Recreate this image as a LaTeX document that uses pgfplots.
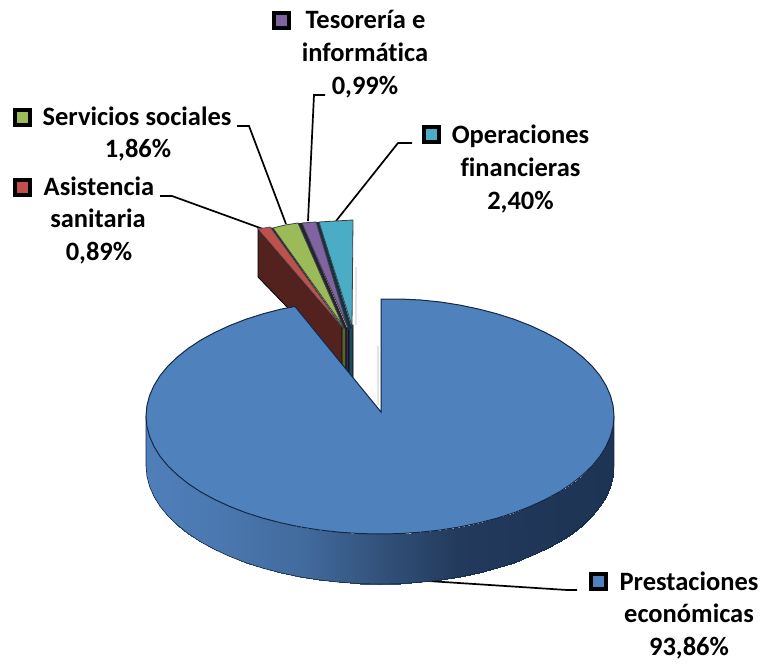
\documentclass[border=0pt]{standalone}
\usepackage{pgfplots}
\pgfplotsset{compat=1.18}
\usepackage{fontspec}
\setmainfont{Carlito}[Ligatures=NoCommon]
\definecolor{piemain}{RGB}{79,129,189}
\definecolor{pieline}{RGB}{20,40,70}
\tikzset{lab/.style={font=\fontsize{26.5}{30}\selectfont\bfseries, inner sep=0pt, anchor=base, text=black}}
\begin{document}
\begin{tikzpicture}
\begin{axis}[
  scale only axis, width=764pt, height=664pt,
  xmin=0, xmax=764, ymin=0, ymax=664, y dir=reverse,
  hide axis, clip=false,
  colormap={side}{rgb255=(79,127,186) rgb255=(74,119,175) rgb255=(66,107,158) rgb255=(50,82,122) rgb255=(35,58,92) rgb255=(31,54,88) rgb255=(29,52,84)},
  point meta min=146, point meta max=614,
]
\path (axis cs:0,0) rectangle (axis cs:764,664);

% soft shadows
\addplot[black!10, line width=2pt, no marks] coordinates {(356,267) (356,325)};
\addplot[black!10, line width=2pt, no marks] coordinates {(378,346) (378,405)};

% leader lines
\addplot[black, line width=1.7pt, no marks] coordinates {(160,196) (172,196) (263,229)};
\addplot[black, line width=1.7pt, no marks] coordinates {(237,126) (249,126) (286,224)};
\addplot[black, line width=1.7pt, no marks] coordinates {(325,95) (314,95) (308,221)};
\addplot[black, line width=1.7pt, no marks] coordinates {(412,143) (398,143) (336,221)};

% exploded slices: side walls
\addplot[fill={rgb,255:red,84;green,34;blue,30}, draw=black, line width=0.8pt, no marks] coordinates {(258,229) (258,277) (343,365) (343,328)} -- cycle;
\addplot[fill={rgb,255:red,88;green,100;blue,45}, draw=black, line width=0.6pt, no marks] coordinates {(342,326) (342,365) (346,370) (346,328)} -- cycle;
\addplot[fill={rgb,255:red,55;green,42;blue,80}, draw=black, line width=0.6pt, no marks] coordinates {(346,328) (346,370) (349,374) (349,328)} -- cycle;
\addplot[fill={rgb,255:red,30;green,75;blue,90}, draw=black, line width=0.6pt, no marks] coordinates {(349,325) (349,374) (353,378) (353,325)} -- cycle;
% dark left walls between the slices
\addplot[fill={rgb,255:red,30;green,40;blue,30}, draw=none, no marks] coordinates {(270,227) (273,228) (342,326) (343,330)} -- cycle;
\addplot[fill={rgb,255:red,35;green,35;blue,50}, draw=none, no marks] coordinates {(298,223) (302,223) (347,328) (343,328)} -- cycle;
\addplot[fill={rgb,255:red,20;green,50;blue,70}, draw=none, no marks] coordinates {(316,222) (319,222) (352,328) (348,330)} -- cycle;
% exploded slices: tops
\addplot[fill={rgb,255:red,192;green,80;blue,77}, draw=black!70, line width=0.7pt, no marks] coordinates {(258,229) (270,227) (343,328)} -- cycle;
\addplot[fill={rgb,255:red,155;green,187;blue,89}, draw=black!75, line width=0.8pt, no marks] coordinates {(273,228) (285,225) (298,223) (343,326)} -- cycle;
\addplot[fill={rgb,255:red,128;green,100;blue,162}, draw=black!75, line width=0.8pt, no marks] coordinates {(302,223) (316,222) (348,328)} -- cycle;
\addplot[fill={rgb,255:red,75;green,172;blue,198}, draw=black!75, line width=0.8pt, no marks] coordinates {(319,222) (336,221) (353,220) (352,326)} -- cycle;

% Prestaciones leader
\addplot[black, line width=1.7pt, no marks] coordinates {(428,581) (567,590) (577,590)};

% main slice: rim
\addplot[surf, shader=interp, mesh/rows=2, mesh/ordering=rowwise, point meta=x, draw=none] coordinates {
(614,416) (613.1,426.3) (610.4,436.5) (606,446.5) (599.9,456.4) (592.1,465.9) (582.6,475) (571.7,483.7) (559.3,491.9) (545.5,499.4) (530.4,506.4) (514.2,512.7) (497,518.2) (478.9,522.9) (460,526.9) (440.6,530) (420.6,532.2) (400.4,533.6) (380,534) (359.6,533.6) (339.4,532.2) (319.4,530) (300,526.9) (281.1,522.9) (263,518.2) (245.8,512.7) (229.6,506.4) (214.5,499.4) (200.7,491.9) (188.3,483.7) (177.4,475) (167.9,465.9) (160.1,456.4) (154,446.5) (149.6,436.5) (146.9,426.3) (146,416)

(614,466) (613.1,476.3) (610.4,486.5) (606,496.5) (599.9,506.4) (592.1,515.9) (582.6,525) (571.7,533.7) (559.3,541.9) (545.5,549.4) (530.4,556.4) (514.2,562.7) (497,568.2) (478.9,572.9) (460,576.9) (440.6,580) (420.6,582.2) (400.4,583.6) (380,584) (359.6,583.6) (339.4,582.2) (319.4,580) (300,576.9) (281.1,572.9) (263,568.2) (245.8,562.7) (229.6,556.4) (214.5,549.4) (200.7,541.9) (188.3,533.7) (177.4,525) (167.9,515.9) (160.1,506.4) (154,496.5) (149.6,486.5) (146.9,476.3) (146,466)
};
\addplot[pieline, line width=0.6pt, no marks] coordinates {
(614,416) (614,466) (613.1,476.3) (610.4,486.5) (606,496.5) (599.9,506.4) (592.1,515.9) (582.6,525) (571.7,533.7) (559.3,541.9) (545.5,549.4) (530.4,556.4) (514.2,562.7) (497,568.2) (478.9,572.9) (460,576.9) (440.6,580) (420.6,582.2) (400.4,583.6) (380,584) (359.6,583.6) (339.4,582.2) (319.4,580) (300,576.9) (281.1,572.9) (263,568.2) (245.8,562.7) (229.6,556.4) (214.5,549.4) (200.7,541.9) (188.3,533.7) (177.4,525) (167.9,515.9) (160.1,506.4) (154,496.5) (149.6,486.5) (146.9,476.3) (146,466) (146,416)
};
% main slice: top
\addplot[fill=piemain, draw=pieline, line width=1pt, no marks] coordinates {
(614,416) (613.1,426.3) (610.4,436.5) (606,446.5) (599.9,456.4) (592.1,465.9) (582.6,475) (571.7,483.7) (559.3,491.9) (545.5,499.4) (530.4,506.4) (514.2,512.7) (497,518.2) (478.9,522.9) (460,526.9) (440.6,530) (420.6,532.2) (400.4,533.6) (380,534) (359.6,533.6) (339.4,532.2) (319.4,530) (300,526.9) (281.1,522.9) (263,518.2) (245.8,512.7) (229.6,506.4) (214.5,499.4) (200.7,491.9) (188.3,483.7) (177.4,475) (167.9,465.9) (160.1,456.4) (154,446.5) (149.6,436.5) (146.9,426.3) (146,416)
(146.9,405.7) (149.6,395.5) (154,385.5) (160.1,375.6) (167.9,366.1) (177.4,357) (188.3,348.3) (200.7,340.1) (214.5,332.6) (229.6,325.6) (245.8,319.3) (263,313.8) (281.1,309.1) (295,306.5)
(381,412) (381,299)
(400.4,299) (420.6,300) (440.6,302) (460,305.1) (478.9,309.1) (497,313.8) (514.2,319.3) (530.4,325.6) (545.5,332.6) (559.3,340.1) (571.7,348.3) (582.6,357) (592.1,366.1) (599.9,375.6) (606,385.5) (610.4,395.5) (613.1,405.7)
} -- cycle;

% legend keys
\addplot[only marks, mark=square*, mark size=7.5pt, mark options={draw=black, fill={rgb,255:red,128;green,100;blue,162}, line width=4pt, rounded corners=1.5pt}] coordinates {(281,20)};
\addplot[only marks, mark=square*, mark size=7.5pt, mark options={draw=black, fill={rgb,255:red,155;green,187;blue,89}, line width=4pt, rounded corners=1.5pt}] coordinates {(22,117)};
\addplot[only marks, mark=square*, mark size=7.5pt, mark options={draw=black, fill={rgb,255:red,192;green,80;blue,77}, line width=4pt, rounded corners=1.5pt}] coordinates {(22,187)};
\addplot[only marks, mark=square*, mark size=7.5pt, mark options={draw=black, fill={rgb,255:red,75;green,172;blue,198}, line width=4pt, rounded corners=1.5pt}] coordinates {(431,134)};
\addplot[only marks, mark=square*, mark size=7.5pt, mark options={draw=black, fill=piemain, line width=4pt, rounded corners=1.5pt}] coordinates {(598,581)};

% labels
\node[lab] at (axis cs:365.5,28) {Tesorería e};
\node[lab] at (axis cs:365,61) {informática};
\node[lab] at (axis cs:365,94) {0,99\%};
\node[lab] at (axis cs:137,125) {Servicios sociales};
\node[lab] at (axis cs:138,157) {1,86\%};
\node[lab] at (axis cs:99,195) {Asistencia};
\node[lab] at (axis cs:98,227) {sanitaria};
\node[lab] at (axis cs:99,260) {0,89\%};
\node[lab] at (axis cs:520.5,143) {Operaciones};
\node[lab] at (axis cs:520.5,176) {financieras};
\node[lab] at (axis cs:520.5,209) {2,40\%};
\node[lab] at (axis cs:689,590) {Prestaciones};
\node[lab] at (axis cs:689,622) {económicas};
\node[lab] at (axis cs:689,655) {93,86\%};
\end{axis}
\end{tikzpicture}
\end{document}
